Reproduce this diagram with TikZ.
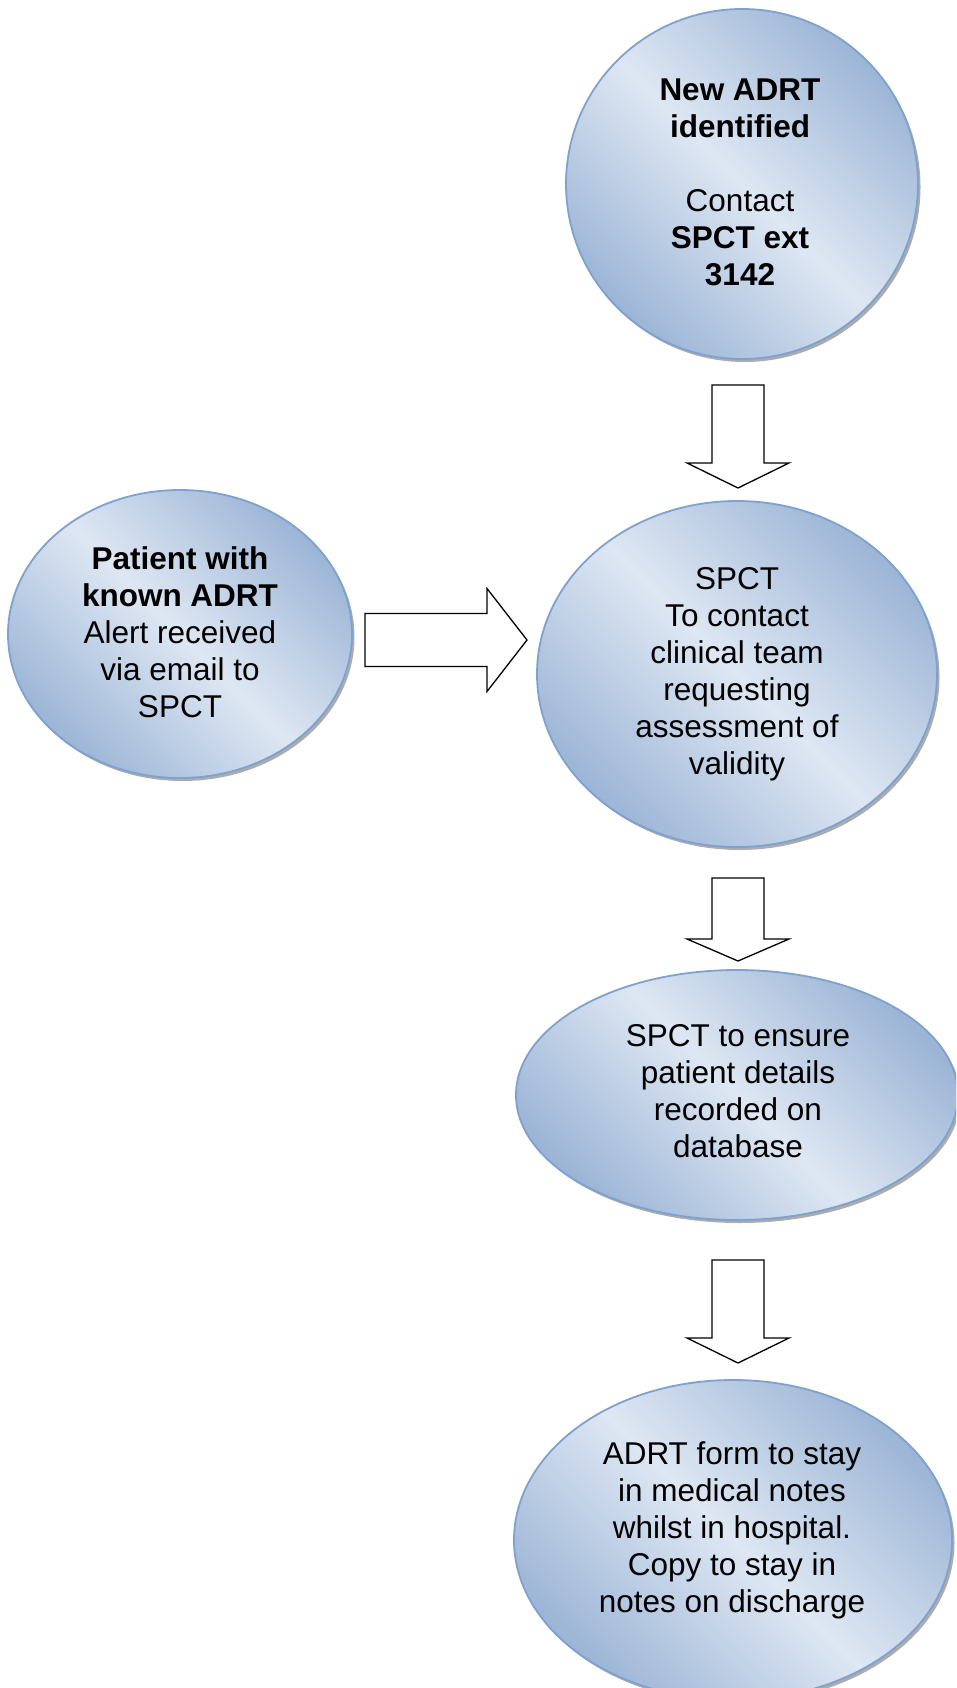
\documentclass[tikz,border=0pt]{standalone}
\usepackage{fontspec}
\setmainfont{Liberation Sans}
\usetikzlibrary{shapes.geometric,shadows,calc}
\definecolor{bubblelight}{RGB}{222,231,243}
\definecolor{bubbledark}{RGB}{156,181,214}
\definecolor{bubbleline}{RGB}{126,161,206}
\tikzset{
  bubble/.style={ellipse, draw=bubbleline, line width=1.8pt, inner sep=0pt,
    top color=bubbledark, bottom color=bubbledark, middle color=bubblelight,
    shading angle=-45,
    drop shadow={shadow xshift=2.5pt, shadow yshift=-3pt, opacity=.5, fill=black!65}},
  label/.style={align=center, inner sep=0pt, font=\fontsize{31.5}{37}\selectfont},
  blockarrow/.style={draw=black, line width=1.3pt, fill=white, line join=miter}
}
% down block arrow between two named coordinates: #1 start, #2 tip, #3 head length
\newcommand{\downblock}[3]{%
  \draw[blockarrow] let \p1=(#1), \p2=(#2) in
    (\x1-26pt,\y1) -- (\x1+26pt,\y1) -- (\x1+26pt,\y2+#3) -- (\x1+51pt,\y2+#3)
    -- (\x2,\y2) -- (\x1-51pt,\y2+#3) -- (\x1-26pt,\y2+#3) -- cycle;}
\begin{document}
\begin{tikzpicture}[x=1pt,y=-1pt]
\useasboundingbox (0,0) rectangle (956,1688);
\clip (0,0) rectangle (956,1688);

% bubbles
\node[bubble, minimum width=352pt, minimum height=350pt] (e1) at (742,184) {};
\node[bubble, minimum width=344pt, minimum height=288pt] (e2) at (180,634) {};
\node[bubble, minimum width=400pt, minimum height=346pt] (e3) at (737,674) {};
\node[bubble, minimum width=442pt, minimum height=250pt] (e4) at (737,1095) {};
\node[bubble, minimum width=438pt, minimum height=320pt] (e5) at (733,1540) {};

% texts
\node[label] (t1) at (740,182) {\textbf{New ADRT}\\\textbf{identified}\\[37pt]Contact\\\textbf{SPCT ext}\\\textbf{3142}};
\node[label] (t2) at (180,632) {\textbf{Patient with}\\\textbf{known ADRT}\\Alert received\\via email to\\SPCT};
\node[label] (t3) at (737,674) {SPCT\\To contact\\clinical team\\requesting\\assessment of\\validity};
\node[label] (t4) at (738,1091) {SPCT to ensure\\patient details\\recorded on\\database};
\node[label] (t5) at (732,1530.5) {ADRT form to stay\\in medical notes\\whilst in hospital.\\Copy to stay in\\notes on discharge};

% connector end points
\coordinate (a1s) at (738,385);  \coordinate (a1t) at (738,488);
\coordinate (a2s) at (738,878);  \coordinate (a2t) at (738,961);
\coordinate (a3s) at (738,1260); \coordinate (a3t) at (738,1363);
\coordinate (ars) at (365,640);  \coordinate (art) at (527,640);

\downblock{a1s}{a1t}{25pt}
\downblock{a2s}{a2t}{22pt}
\downblock{a3s}{a3t}{25pt}

\draw[blockarrow] let \p1=(ars), \p2=(art) in
  (\x1,\y1+26.5pt) -- (\x2-40pt,\y1+26.5pt) -- (\x2-40pt,\y1+51.5pt) -- (\x2,\y2)
  -- (\x2-40pt,\y1-51.5pt) -- (\x2-40pt,\y1-26.5pt) -- (\x1,\y1-26.5pt) -- cycle;
\end{tikzpicture}
\end{document}
